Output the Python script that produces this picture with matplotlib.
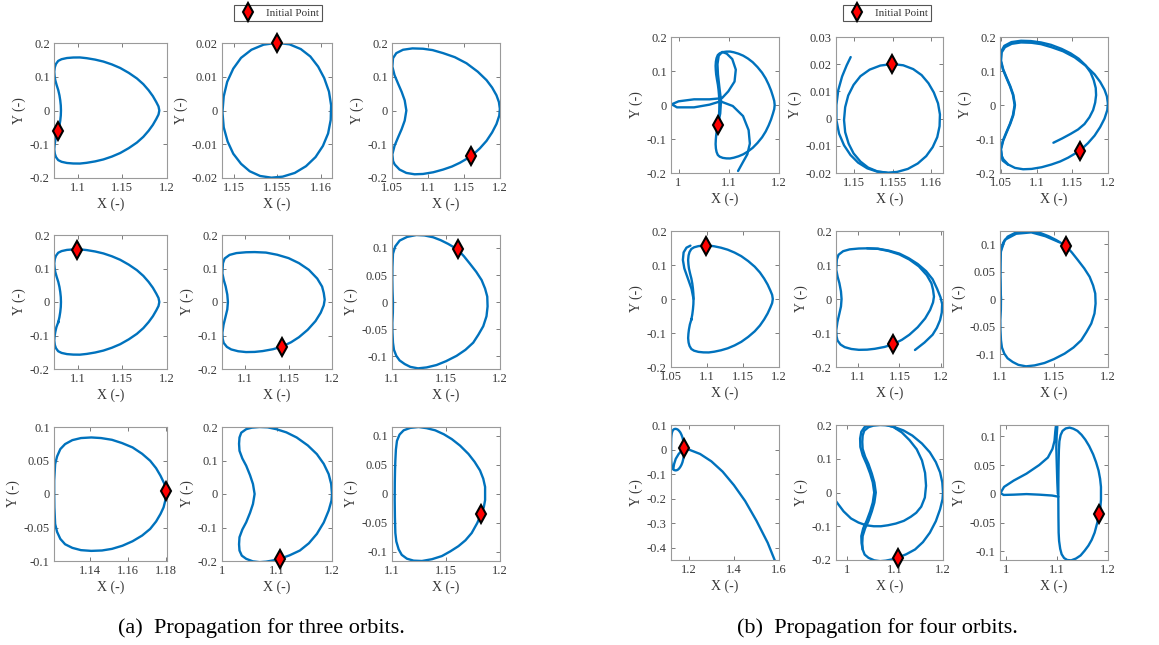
import matplotlib
matplotlib.use('Agg')
import matplotlib.pyplot as plt
from matplotlib.lines import Line2D

plt.rcParams['font.family'] = 'Liberation Serif'
plt.rcParams['axes.unicode_minus'] = False

# ---- orbit data (X, Y in nondimensional units) ----
# orbit shared by panels 1 and 4
orb1_x = [1.0783, 1.0762, 1.0749, 1.0742, 1.0738, 1.0744, 1.0757, 1.0782, 1.0820, 1.0880,
          1.0951, 1.1025, 1.1101, 1.1195, 1.1288, 1.1383, 1.1476, 1.1572, 1.1663, 1.1735,
          1.1794, 1.1842, 1.1880, 1.1905, 1.1914, 1.1905, 1.1880, 1.1842, 1.1794, 1.1735,
          1.1663, 1.1572, 1.1476, 1.1383, 1.1288, 1.1195, 1.1101, 1.1025, 1.0951, 1.0880,
          1.0820, 1.0782, 1.0757, 1.0744, 1.0738, 1.0742, 1.0749, 1.0765, 1.0783, 1.0796,
          1.0805, 1.0811, 1.0813, 1.0811, 1.0805, 1.0796, 1.0783]
orb1_y = [-0.060, -0.075, -0.090, -0.102, -0.115, -0.128, -0.138, -0.147, -0.152, -0.1555,
          -0.157, -0.1572, -0.155, -0.1508, -0.145, -0.1365, -0.126, -0.1115, -0.095, -0.078,
          -0.060, -0.0425, -0.025, -0.012, 0.0, 0.012, 0.025, 0.0425, 0.060, 0.078,
          0.095, 0.1115, 0.126, 0.1365, 0.145, 0.1508, 0.155, 0.1572, 0.157, 0.1555,
          0.152, 0.147, 0.138, 0.128, 0.115, 0.102, 0.090, 0.075, 0.060, 0.045,
          0.030, 0.015, 0.0, -0.015, -0.030, -0.045, -0.060]

orb2_x = [1.15496, 1.15640, 1.15770, 1.15880, 1.15970, 1.16040, 1.16095, 1.16120, 1.16115, 1.16085,
          1.16025, 1.15940, 1.15830, 1.15700, 1.15560, 1.15430, 1.15300, 1.15180, 1.15080, 1.14990,
          1.14925, 1.14880, 1.14865, 1.14880, 1.14920, 1.14990, 1.15080, 1.15200, 1.15340, 1.15496]
orb2_y = [0.02006, 0.01960, 0.01820, 0.01600, 0.01300, 0.00960, 0.00560, 0.00150, -0.00280, -0.00680,
          -0.01050, -0.01380, -0.01650, -0.01850, -0.01960, -0.01990, -0.01940, -0.01800, -0.01580, -0.01280,
          -0.00920, -0.00500, -0.00050, 0.00420, 0.00850, 0.01240, 0.01560, 0.01800, 0.01950, 0.02006]

orb3_x = [1.1602, 1.1720, 1.1812, 1.1890, 1.1951, 1.1990, 1.1998, 1.1985, 1.1951, 1.1890,
          1.1812, 1.1690, 1.1533, 1.1370, 1.1207, 1.1060, 1.0928, 1.0780, 1.0649, 1.0555,
          1.0509, 1.0500, 1.0530, 1.0579, 1.0630, 1.0672, 1.0695, 1.0672, 1.0630, 1.0579,
          1.0530, 1.0500, 1.0510, 1.0533, 1.0600, 1.0695, 1.0810, 1.0928, 1.1070, 1.1207,
          1.1330, 1.1440, 1.1602]
orb3_y = [-0.135, -0.112, -0.090, -0.065, -0.040, -0.015, 0.005, 0.025, 0.045, 0.068,
          0.090, 0.115, 0.140, 0.158, 0.170, 0.179, 0.183, 0.184, 0.180, 0.170,
          0.155, 0.130, 0.105, 0.080, 0.055, 0.030, 0.0, -0.030, -0.055, -0.080,
          -0.105, -0.130, -0.150, -0.160, -0.175, -0.185, -0.189, -0.188, -0.183, -0.175,
          -0.166, -0.155, -0.135]

orb5_x = [1.1425, 1.1530, 1.1620, 1.1720, 1.1810, 1.1870, 1.1905, 1.1916, 1.1905, 1.1886,
          1.1830, 1.1734, 1.1620, 1.1500, 1.1370, 1.1240, 1.1110, 1.1011, 1.0900, 1.0821,
          1.0765, 1.0745, 1.0738, 1.0755, 1.0776, 1.0795, 1.0802, 1.0795, 1.0776, 1.0752,
          1.0738, 1.0742, 1.0753, 1.0790, 1.0840, 1.0920, 1.1011, 1.1110, 1.1202, 1.1320,
          1.1425]
orb5_y = [-0.133, -0.120, -0.105, -0.083, -0.057, -0.032, -0.010, 0.007, 0.027, 0.046,
          0.070, 0.096, 0.116, 0.131, 0.141, 0.1475, 0.149, 0.1485, 0.146, 0.1406,
          0.130, 0.116, 0.086, 0.065, 0.0465, 0.022, 0.0, -0.022, -0.0426, -0.068,
          -0.092, -0.110, -0.122, -0.134, -0.1416, -0.147, -0.1495, -0.149, -0.1465, -0.141,
          -0.133]

orb6_x = [1.1607, 1.1665, 1.1721, 1.1780, 1.1830, 1.1862, 1.1882, 1.1885, 1.1875, 1.1845,
          1.1800, 1.1752, 1.1680, 1.1598, 1.1500, 1.1412, 1.1320, 1.1241, 1.1170, 1.1118,
          1.1070, 1.1040, 1.1018, 1.1009, 1.1004, 1.1003, 1.1008, 1.1009, 1.1005, 1.1003,
          1.1004, 1.1009, 1.1030, 1.1071, 1.1140, 1.1226, 1.1300, 1.1381, 1.1450, 1.1520,
          1.1607]
orb6_y = [0.0973, 0.0850, 0.0711, 0.0560, 0.0407, 0.0250, 0.0103, -0.0079, -0.0260, -0.0444,
          -0.0600, -0.0748, -0.0880, -0.0991, -0.1090, -0.1161, -0.1205, -0.1222, -0.1195, -0.1143,
          -0.1075, -0.0991, -0.0880, -0.0748, -0.0550, -0.0383, -0.0190, 0.0, 0.0200, 0.0407,
          0.0650, 0.0894, 0.1030, 0.1137, 0.1205, 0.1240, 0.1232, 0.1198, 0.1145, 0.1076,
          0.0973]

orb7_x = [1.1800, 1.1790, 1.1771, 1.1748, 1.1717, 1.1675, 1.1625, 1.1570, 1.1517, 1.1460,
          1.1409, 1.1355, 1.1310, 1.1272, 1.1247, 1.1230, 1.1220, 1.1215, 1.1215, 1.1216,
          1.1220, 1.1230, 1.1247, 1.1272, 1.1310, 1.1355, 1.1409, 1.1465, 1.1517, 1.1572,
          1.1625, 1.1675, 1.1717, 1.1748, 1.1771, 1.1787, 1.1796, 1.1800]
orb7_y = [0.0050, 0.0160, 0.0273, 0.0385, 0.0496, 0.0600, 0.0695, 0.0760, 0.0809, 0.0835,
          0.0844, 0.0835, 0.0804, 0.0745, 0.0670, 0.0560, 0.0447, 0.0200, 0.0, -0.0200,
          -0.0447, -0.0565, -0.0670, -0.0750, -0.0804, -0.0838, -0.0849, -0.0843, -0.0819, -0.0772,
          -0.0705, -0.0620, -0.0521, -0.0410, -0.0298, -0.0200, -0.0099, 0.0050]

orb8_x = [1.1049, 1.1230, 1.1416, 1.1580, 1.1725, 1.1850, 1.1939, 1.1990, 1.2000, 1.1985,
          1.1939, 1.1850, 1.1725, 1.1560, 1.1358, 1.1170, 1.0988, 1.0830, 1.0685, 1.0540,
          1.0440, 1.0350, 1.0318, 1.0310, 1.0318, 1.0370, 1.0440, 1.0510, 1.0563, 1.0593,
          1.0563, 1.0510, 1.0440, 1.0370, 1.0318, 1.0310, 1.0318, 1.0360, 1.0440, 1.0560,
          1.0685, 1.0800, 1.0920, 1.1049]
orb8_y = [-0.1935, -0.1830, -0.1687, -0.1470, -0.1190, -0.0850, -0.0496, -0.0200, 0.0, 0.0300,
          0.0596, 0.0900, 0.1190, 0.1450, 0.1687, 0.1840, 0.1935, 0.1990, 0.2000, 0.1980,
          0.1935, 0.1830, 0.1687, 0.1500, 0.1290, 0.1060, 0.0844, 0.0560, 0.0298, 0.0,
          -0.0298, -0.0560, -0.0844, -0.1060, -0.1290, -0.1500, -0.1687, -0.1840, -0.1935, -0.2010,
          -0.2035, -0.2020, -0.1985, -0.1935]

orb9_x = [1.1825, 1.1790, 1.1738, 1.1680, 1.1615, 1.1540, 1.1462, 1.1370, 1.1277, 1.1200,
          1.1138, 1.1090, 1.1062, 1.1040, 1.1031, 1.1027, 1.1025, 1.1026, 1.1028, 1.1031,
          1.1036, 1.1046, 1.1070, 1.1108, 1.1170, 1.1246, 1.1320, 1.1400, 1.1480, 1.1554,
          1.1630, 1.1708, 1.1765, 1.1815, 1.1845, 1.1862, 1.1862, 1.1850, 1.1825]
orb9_y = [-0.0346, -0.0500, -0.0674, -0.0800, -0.0901, -0.0990, -0.1071, -0.1125, -0.1156, -0.1150,
          -0.1116, -0.1050, -0.0957, -0.0820, -0.0674, -0.0400, -0.0108, 0.0200, 0.0400, 0.0572,
          0.0760, 0.0912, 0.1020, 0.1093, 0.1135, 0.1150, 0.1130, 0.1093, 0.1025, 0.0941,
          0.0830, 0.0686, 0.0550, 0.0402, 0.0260, 0.0119, -0.0108, -0.0230, -0.0346]

# initial points of the nine cases
start_x = [1.0783, 1.15496, 1.1602, 1.0990, 1.1425, 1.1607, 1.1800, 1.1049, 1.1825]
start_y = [-0.060, 0.02006, -0.135, 0.156, -0.133, 0.0973, 0.005, -0.1935, -0.0346]

# extra (fourth) revolution that drifts away, right-hand group only
tail1_x = [1.0783, 1.0830, 1.0846, 1.0815, 1.0785, 1.0775, 1.0800, 1.0870, 1.0960, 1.1070,
           1.1140, 1.1115, 1.0990, 1.0864, 1.0617, 1.0309, 1.0000, 0.9864, 0.9969, 1.0309,
           1.0617, 1.0833, 1.1080, 1.1284, 1.1395, 1.1420, 1.1370, 1.1284, 1.1185]
tail1_y = [-0.060, -0.025, 0.013, 0.050, 0.090, 0.120, 0.145, 0.156, 0.151, 0.135,
           0.104, 0.069, 0.040, 0.020, 0.0167, 0.0167, 0.0108, 0.002, -0.0069, -0.0069,
           0.001, 0.0108, -0.003, -0.0325, -0.0739, -0.1133, -0.1448, -0.1675, -0.1941]

tail2_x = [1.15430, 1.15300, 1.15170, 1.15050, 1.14950, 1.14865, 1.14800, 1.14765, 1.14765, 1.14790,
           1.14840, 1.14900, 1.14952]
tail2_y = [-0.01990, -0.01950, -0.01830, -0.01620, -0.01340, -0.00980, -0.00550, -0.00050, 0.00500, 0.01050,
           0.01550, 0.01960, 0.02262]

tail3_x = [1.0600, 1.0520, 1.0495, 1.0525, 1.0574, 1.0625, 1.0666, 1.0690, 1.0666, 1.0625,
           1.0574, 1.0525, 1.0495, 1.0500, 1.0545, 1.0645, 1.0780, 1.0920, 1.1060, 1.1200,
           1.1350, 1.1475, 1.1590, 1.1684, 1.1755, 1.1800, 1.1828, 1.1833, 1.1820, 1.1791,
           1.1740, 1.1670, 1.1580, 1.1475, 1.1360, 1.1234]
tail3_y = [-0.176, -0.163, -0.130, -0.105, -0.080, -0.055, -0.030, 0.0, 0.030, 0.055,
           0.080, 0.105, 0.130, 0.157, 0.174, 0.185, 0.189, 0.188, 0.184, 0.177,
           0.165, 0.152, 0.136, 0.117, 0.096, 0.073, 0.050, 0.029, 0.007, -0.015,
           -0.036, -0.056, -0.072, -0.085, -0.098, -0.111]

tail4_x = [1.0813, 1.0785, 1.0735, 1.0685, 1.0665, 1.0675, 1.0715, 1.0770]
tail4_y = [0.0, 0.030, 0.060, 0.090, 0.115, 0.137, 0.151, 0.157]

tail5_x = [1.1110, 1.1240, 1.1370, 1.1500, 1.1611, 1.1720, 1.1821, 1.1900, 1.1954, 1.1995,
           1.2015, 1.2010, 1.1990, 1.1950, 1.1900, 1.1802, 1.1687]
tail5_y = [0.149, 0.148, 0.1425, 0.1335, 0.120, 0.103, 0.082, 0.058, 0.030, 0.005,
           -0.015, -0.040, -0.062, -0.085, -0.105, -0.128, -0.150]

tail6_x = [1.1009, 1.1002, 1.1005, 1.1045, 1.1150, 1.1290, 1.1420, 1.1550]
tail6_y = [0.0, 0.045, 0.085, 0.108, 0.119, 0.1215, 0.1145, 0.1035]

tail7_x = [1.1310, 1.1345, 1.1420, 1.1550, 1.1680, 1.1800, 1.2000, 1.2500, 1.3000, 1.3500,
           1.4000, 1.4500, 1.5000, 1.5500, 1.5850]
tail7_y = [-0.0804, -0.060, -0.038, -0.018, -0.005, 0.0, 0.0, -0.018, -0.048, -0.090,
           -0.145, -0.210, -0.290, -0.380, -0.460]

tail8_x = [1.0318, 1.0295, 1.0290, 1.0330, 1.0400, 1.0475, 1.0530, 1.0560, 1.0530, 1.0475,
           1.0400, 1.0320, 1.0270, 1.0265, 1.0290, 1.0360, 1.0470, 1.0620, 1.0780, 1.0950,
           1.1138, 1.1300, 1.1450, 1.1560, 1.1625, 1.1645, 1.1620, 1.1544, 1.1440, 1.1325,
           1.1180, 1.1013, 1.0850, 1.0700, 1.0550, 1.0388, 1.0230, 1.0075, 0.9920, 0.9750]
tail8_y = [-0.1687, -0.1500, -0.1290, -0.1060, -0.0844, -0.0560, -0.0298, 0.0, 0.0298, 0.0560,
           0.0844, 0.1100, 0.1350, 0.1600, 0.1800, 0.1940, 0.2010, 0.2030, 0.2010, 0.1950,
           0.1780, 0.1550, 0.1280, 0.0950, 0.0580, 0.0200, -0.0150, -0.0420, -0.0600, -0.0720,
           -0.0840, -0.0920, -0.0970, -0.1000, -0.1000, -0.0970, -0.0890, -0.0770, -0.0560, -0.0240]

tail9_x = [1.1027, 1.0900, 1.0650, 1.0400, 1.0150, 0.9950, 0.9890, 0.9960, 1.0150, 1.0400,
           1.0650, 1.0820, 1.0910, 1.0950, 1.0965, 1.0980, 1.1005, 1.0992, 1.0985, 1.0995,
           1.1005, 1.1015]
tail9_y = [-0.0050, -0.0030, -0.0015, -0.0005, -0.0015, -0.0020, 0.0015, 0.0120, 0.0230, 0.0350,
           0.0500, 0.0630, 0.0780, 0.0920, 0.1080, 0.1200, 0.1170, 0.1000, 0.0800, 0.0500,
           0.0200, 0.0]

orbits_x = [orb1_x, orb2_x, orb3_x, orb1_x, orb5_x, orb6_x, orb7_x, orb8_x, orb9_x]
orbits_y = [orb1_y, orb2_y, orb3_y, orb1_y, orb5_y, orb6_y, orb7_y, orb8_y, orb9_y]
tails_x = [tail1_x, tail2_x, tail3_x, tail4_x, tail5_x, tail6_x, tail7_x, tail8_x, tail9_x]
tails_y = [tail1_y, tail2_y, tail3_y, tail4_y, tail5_y, tail6_y, tail7_y, tail8_y, tail9_y]

# ---- layout (pixels of a 1159 x 645 canvas) ----
W, H = 1159, 645
cols_a = [(54, 167), (222, 332), (392, 500)]
rows_a = [(43, 178), (235, 369), (427, 561)]
cols_b = [(671, 779), (836, 943), (1000, 1108)]
rows_b = [(37, 173), (231, 367), (425, 560)]

yt2 = [-0.2, -0.1, 0, 0.1, 0.2]
yt05 = [-0.1, -0.05, 0, 0.05, 0.1]
lims_a = [((1.0735, 1.2), (-0.2, 0.2), [1.1, 1.15, 1.2], yt2),
          ((1.1486, 1.1613), (-0.02, 0.02), [1.15, 1.155, 1.16], [-0.02, -0.01, 0, 0.01, 0.02]),
          ((1.0495, 1.2), (-0.2, 0.2), [1.05, 1.1, 1.15, 1.2], yt2),
          ((1.0735, 1.2), (-0.2, 0.2), [1.1, 1.15, 1.2], yt2),
          ((1.0734, 1.2), (-0.2, 0.2), [1.1, 1.15, 1.2], yt2),
          ((1.1, 1.2), (-0.1234, 0.124), [1.1, 1.15, 1.2], yt05),
          ((1.1214, 1.1805), (-0.1, 0.1), [1.14, 1.16, 1.18], yt05),
          ((1.0, 1.2), (-0.2, 0.2), [1, 1.1, 1.2], yt2),
          ((1.1, 1.2), (-0.1156, 0.115), [1.1, 1.15, 1.2], yt05)]
lims_b = [((0.985, 1.198), (-0.2, 0.2), [1, 1.1, 1.2], yt2),
          ((1.1476, 1.1616), (-0.02, 0.03), [1.15, 1.155, 1.16], [-0.02, -0.01, 0, 0.01, 0.02, 0.03]),
          ((1.0485, 1.2), (-0.2, 0.2), [1.05, 1.1, 1.15, 1.2], yt2),
          ((1.05, 1.2), (-0.2, 0.2), [1.05, 1.1, 1.15, 1.2], yt2),
          ((1.0735, 1.2025), (-0.2, 0.2), [1.1, 1.15, 1.2], yt2),
          ((1.1, 1.2), (-0.1234, 0.124), [1.1, 1.15, 1.2], yt05),
          ((1.121, 1.6), (-0.45, 0.1), [1.2, 1.4, 1.6], [-0.4, -0.3, -0.2, -0.1, 0, 0.1]),
          ((0.976, 1.2), (-0.2, 0.2), [1, 1.1, 1.2], yt2),
          ((0.988, 1.2), (-0.115, 0.1195), [1, 1.1, 1.2], yt05)]

line_blue = '#0072BD'
txt_grey = '#383838'
box_grey = '#9a9a9a'

fig = plt.figure(figsize=(W / 100, H / 100), dpi=100)


def make_axes(col, row):
    l, r = col
    t, b = row
    return fig.add_axes([l / W, 1 - b / H, (r - l) / W, (b - t) / H])


def style(ax, xlim, ylim, xt, yt):
    ax.set_xlim(*xlim)
    ax.set_ylim(*ylim)
    ax.set_xticks(xt)
    ax.set_xticklabels([f'{v:g}' for v in xt])
    ax.set_yticks(yt)
    ax.set_yticklabels([f'{v:g}' for v in yt])
    ax.tick_params(direction='in', top=True, right=True, length=3, width=0.6,
                   color='#666666', labelcolor=txt_grey, labelsize=9, pad=3)
    for s in ax.spines.values():
        s.set_color(box_grey)
        s.set_linewidth(0.8)
    ax.set_xlabel('X (-)', fontsize=10, color=txt_grey, labelpad=2.5)
    ax.set_ylabel('Y (-)', fontsize=10, color=txt_grey, labelpad=3)


def mark(ax, i):
    ax.plot(start_x[i], start_y[i], marker='d', ms=9, mfc='red', mec='black',
            mew=1.5, ls='none', zorder=5, clip_on=False)


for i in range(9):
    r, c = divmod(i, 3)
    # three orbits
    ax = make_axes(cols_a[c], rows_a[r])
    ax.plot(orbits_x[i], orbits_y[i], color=line_blue, lw=1.7, solid_joinstyle='round')
    mark(ax, i)
    style(ax, *lims_a[i])
    # four orbits
    ax = make_axes(cols_b[c], rows_b[r])
    ax.plot(orbits_x[i], orbits_y[i], color=line_blue, lw=1.7, solid_joinstyle='round')
    ax.plot(tails_x[i], tails_y[i], color=line_blue, lw=1.7, solid_joinstyle='round',
            solid_capstyle='round')
    mark(ax, i)
    style(ax, *lims_b[i])

# legends above each group
handle = Line2D([], [], marker='d', ms=9, mfc='red', mec='black', mew=1.5, ls='none')
for cx in (278, 887):
    leg = fig.legend([handle], ['Initial Point'], loc='center', bbox_to_anchor=(cx / W, 1 - 13 / H),
                     fontsize=8, frameon=True, fancybox=False, framealpha=1,
                     borderpad=0.3, handletextpad=0.6, handlelength=2.0, borderaxespad=0)
    leg.get_frame().set_edgecolor('#555555')
    leg.get_frame().set_linewidth(0.8)
    for t in leg.get_texts():
        t.set_color(txt_grey)

# sub-captions
fig.text(261 / W, 1 - 628 / H, '(a)  Propagation for three orbits.', ha='center', va='center', fontsize=16)
fig.text(877 / W, 1 - 628 / H, '(b)  Propagation for four orbits.', ha='center', va='center', fontsize=16)

fig.savefig('out.png', dpi=100)
